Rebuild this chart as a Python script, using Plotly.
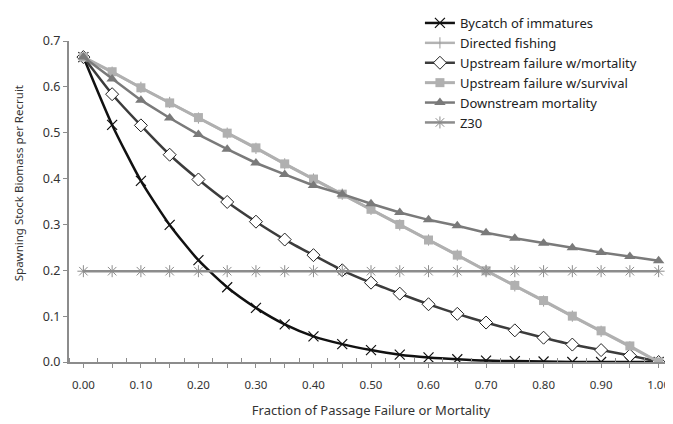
import plotly.graph_objects as go

x = [0.00, 0.05, 0.10, 0.15, 0.20, 0.25, 0.30, 0.35, 0.40, 0.45, 0.50,
     0.55, 0.60, 0.65, 0.70, 0.75, 0.80, 0.85, 0.90, 0.95, 1.00]

bycatch = [0.665, 0.517, 0.395, 0.299, 0.222, 0.163, 0.118, 0.082, 0.056, 0.039, 0.026,
           0.016, 0.010, 0.006, 0.003, 0.002, 0.001, 0.000, 0.000, 0.000, 0.000]
directed = [0.665, 0.632, 0.599, 0.566, 0.532, 0.499, 0.466, 0.432, 0.399, 0.366, 0.333,
            0.299, 0.266, 0.233, 0.200, 0.166, 0.133, 0.100, 0.067, 0.033, 0.000]
up_mort = [0.665, 0.584, 0.516, 0.452, 0.398, 0.349, 0.306, 0.267, 0.233, 0.200, 0.173,
           0.149, 0.126, 0.105, 0.086, 0.069, 0.053, 0.038, 0.026, 0.014, 0.000]
up_surv = [0.665, 0.633, 0.598, 0.565, 0.533, 0.499, 0.467, 0.432, 0.399, 0.366, 0.333,
           0.300, 0.266, 0.233, 0.199, 0.167, 0.134, 0.100, 0.068, 0.035, 0.000]
down_mort = [0.665, 0.617, 0.571, 0.532, 0.496, 0.464, 0.434, 0.409, 0.385, 0.366, 0.345,
             0.326, 0.310, 0.297, 0.282, 0.270, 0.259, 0.249, 0.239, 0.230, 0.221]
z30 = [0.198] * 21

tick_vals = x
tick_text = [f"{v:.2f}" if i % 2 == 0 else "" for i, v in enumerate(x)]
y_ticks = [0.0, 0.1, 0.2, 0.3, 0.4, 0.5, 0.6, 0.7]

FONT = "Noto Sans"

fig = go.Figure()
fig.add_trace(go.Scatter(x=x, y=bycatch, name="Bycatch of immatures", mode="lines+markers",
                         line=dict(color="#111111", width=2.5, shape="spline", smoothing=0.6),
                         marker=dict(symbol="x-thin-open", size=10, color="#111111",
                                     line=dict(color="#111111", width=1.2))))
fig.add_trace(go.Scatter(x=x, y=directed, name="Directed fishing", mode="lines+markers",
                         line=dict(color="#b3b3b3", width=2.5),
                         marker=dict(symbol="line-ns-open", size=8, color="#999999",
                                     line=dict(color="#999999", width=1))))
fig.add_trace(go.Scatter(x=x, y=up_mort, name="Upstream failure w/mortality", mode="lines+markers",
                         line=dict(color="#3c3c3c", width=2.5, shape="spline", smoothing=0.6),
                         marker=dict(symbol="diamond", size=10, color="white",
                                     line=dict(color="#222222", width=1))))
fig.add_trace(go.Scatter(x=x, y=up_surv, name="Upstream failure w/survival", mode="lines+markers",
                         line=dict(color="#b0b0b0", width=3),
                         marker=dict(symbol="square", size=9, color="#b0b0b0")))
fig.add_trace(go.Scatter(x=x, y=down_mort, name="Downstream mortality", mode="lines+markers",
                         line=dict(color="#7a7a7a", width=2.5),
                         marker=dict(symbol="triangle-up", size=10, color="#7a7a7a")))
fig.add_trace(go.Scatter(x=x, y=z30, name="Z30", mode="lines+markers",
                         line=dict(color="#8c8c8c", width=2.5),
                         marker=dict(symbol="asterisk-open", size=10, color="#8c8c8c",
                                     line=dict(color="#8c8c8c", width=1))))

# the page body has an 8px margin, so the figure is sized to fit the window
fig.update_layout(
    width=665, height=416,
    margin=dict(l=61, r=0, t=31, b=62),
    paper_bgcolor="white", plot_bgcolor="white",
    font=dict(family=FONT, size=11, color="#333333"),
    showlegend=True,
    legend=dict(x=0.581, y=1.103, xanchor="left", yanchor="top",
                bgcolor="rgba(0,0,0,0)", font=dict(size=13, color="#222222"),
                tracegroupgap=0, itemwidth=30),
    xaxis=dict(range=[-0.025, 1.025], tickmode="array", tickvals=tick_vals, ticktext=tick_text,
               ticks="outside", ticklen=4, tickcolor="#8c8c8c", tickwidth=1,
               ticklabelstandoff=7,
               showline=True, linecolor="#8c8c8c", linewidth=2, showgrid=False, zeroline=False,
               minor=dict(tickmode="linear", tick0=0.025, dtick=0.05, ticks="inside", ticklen=4,
                          tickcolor="#8c8c8c", showgrid=False),
               tickfont=dict(size=11.5, color="#333333"),
               title=dict(text="Fraction of Passage Failure or Mortality", standoff=15,
                          font=dict(size=13, color="#333333"))),
    yaxis=dict(range=[0, 0.7], tickmode="array", tickvals=y_ticks,
               ticktext=[f"{v:.1f}" for v in y_ticks],
               ticks="outside", ticklen=4, tickcolor="#8c8c8c",
               showline=True, linecolor="#8c8c8c", linewidth=2, showgrid=False, zeroline=False,
               tickfont=dict(size=12.5, color="#333333")),
    annotations=[dict(text="Spawning Stock Biomass per Recruit", textangle=-90,
                      xref="paper", yref="paper", x=-0.0844, y=0.557,
                      xanchor="center", yanchor="middle", showarrow=False,
                      font=dict(size=11.5, color="#333333"))],
)

fig.write_html("out.html")
